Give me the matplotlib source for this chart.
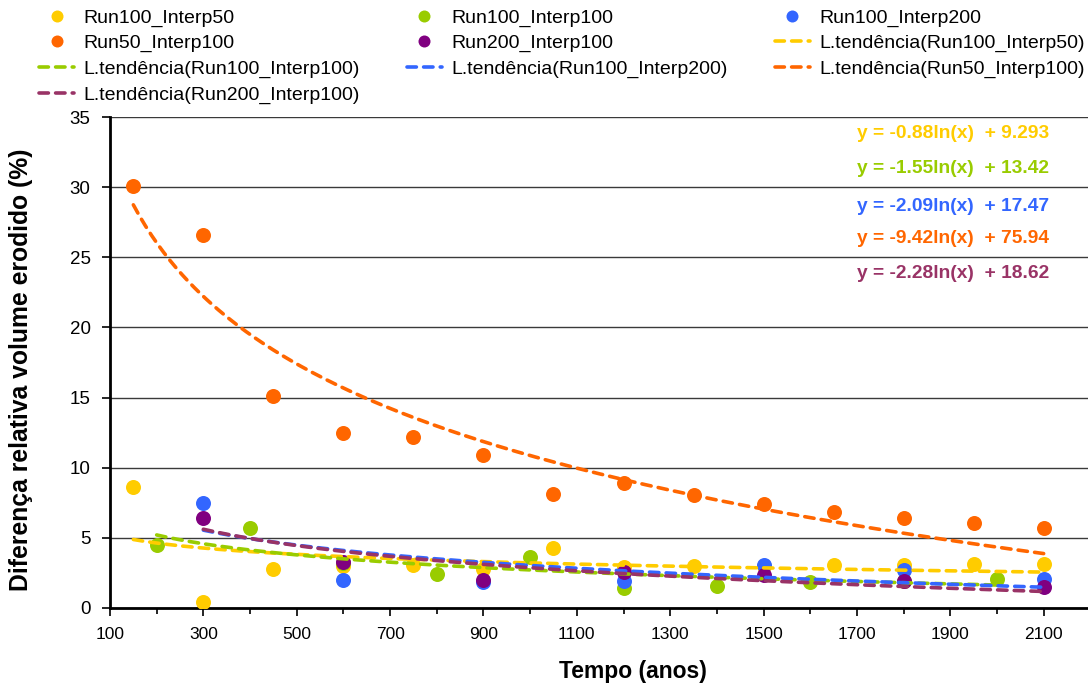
import numpy as np
import matplotlib
matplotlib.use("Agg")
import matplotlib.pyplot as plt

plt.rcParams["font.family"] = ["Liberation Sans", "DejaVu Sans"]

# tempo (anos) for each run
t_150 = [150, 300, 450, 600, 750, 900, 1050, 1200, 1350, 1500, 1650, 1800, 1950, 2100]
t_200 = [200, 400, 600, 800, 1000, 1200, 1400, 1600, 1800, 2000]
t_300 = [300, 600, 900, 1200, 1500, 1800, 2100]

# diferença relativa (%)
run100_interp50 = [8.6, 0.45, 2.8, 3.0, 3.05, 2.8, 4.25, 2.95, 3.0, 3.0, 3.05, 3.05, 3.15, 3.15]
run100_interp100 = [4.5, 5.7, 3.2, 2.45, 3.6, 1.4, 1.6, 1.85, 1.9, 2.1]
run100_interp200 = [7.5, 2.0, 1.85, 1.9, 3.05, 2.7, 2.1]
run50_interp100 = [30.1, 26.6, 15.1, 12.5, 12.2, 10.9, 8.1, 8.9, 8.05, 7.4, 6.85, 6.45, 6.05, 5.7]
run200_interp100 = [6.45, 3.3, 2.0, 2.6, 2.35, 1.9, 1.5]

names = ["Run100_Interp50", "Run100_Interp100", "Run100_Interp200",
         "Run50_Interp100", "Run200_Interp100"]
times = [t_150, t_200, t_300, t_150, t_300]
values = [run100_interp50, run100_interp100, run100_interp200,
          run50_interp100, run200_interp100]

# logarithmic trend lines y = a*ln(x) + b
trend_a = [-0.88, -1.55, -2.09, -9.42, -2.28]
trend_b = [9.293, 13.42, 17.47, 75.94, 18.62]
eq_y = [33.85, 31.35, 28.65, 26.35, 23.85]

point_colors = ["#FFCC00", "#99CC00", "#3366FF", "#FF6600", "#800080"]
trend_colors = ["#FFCC00", "#99CC00", "#3366FF", "#FF6600", "#993366"]

fig = plt.figure(figsize=(10.88, 6.88), dpi=100)
ax = fig.add_axes([110 / 1088, 1 - 608 / 688, 978 / 1088, 491 / 688])

point_handles = []
trend_handles = []
for i in range(5):
    h, = ax.plot(times[i], values[i], "o", color=point_colors[i], ms=10.8,
                 mec="none", zorder=3, label=names[i])
    point_handles.append(h)
for i in range(5):
    x = np.linspace(times[i][0], times[i][-1], 300)
    y = trend_a[i] * np.log(x) + trend_b[i]
    h, = ax.plot(x, y, color=trend_colors[i], lw=2.6, ls=(0, (2.6, 2.0)),
                 dash_capstyle="round", zorder=4,
                 label="L.tendência(%s)" % names[i])
    trend_handles.append(h)

for i in range(5):
    ax.text(1700, eq_y[i], "y = %.2fln(x)  + %s" % (trend_a[i], "{:.4g}".format(trend_b[i])),
            color=trend_colors[i], fontsize=13.8, fontweight="bold",
            ha="left", va="center")

ax.set_xlim(100, 2195)
ax.set_ylim(0, 35)
ax.set_xticks(range(100, 2101, 200))
ax.set_xticks(range(200, 2101, 200), minor=True)
ax.set_yticks(range(0, 36, 5))
ax.tick_params(axis="x", which="major", length=6, width=1.2, pad=8, labelsize=12.5)
ax.tick_params(axis="x", which="minor", length=4, width=1.2)
ax.tick_params(axis="y", length=6, width=1.2, pad=8, labelsize=13.5)
ax.yaxis.grid(True, color="#3a3a3a", lw=1.0)
ax.set_axisbelow(True)
for s in ["top", "right"]:
    ax.spines[s].set_visible(False)
ax.spines["left"].set_linewidth(2)
ax.spines["bottom"].set_linewidth(2)

ax.set_xlabel("Tempo (anos)", fontsize=16.5, fontweight="bold")
ax.xaxis.set_label_coords(0.535, -0.105)
ax.set_ylabel("Diferença relativa volume erodido (%)", fontsize=17.8, fontweight="bold")
ax.yaxis.set_label_coords(-0.079, 0.485)

# legend laid out row by row across three columns
order = point_handles + trend_handles
rows = [order[k:k + 3] for k in range(0, 10, 3)]
col_major = []
for c in range(3):
    for r in rows:
        if c < len(r):
            col_major.append(r[c])
leg = fig.legend(handles=col_major, labels=[h.get_label() for h in col_major],
                 ncol=3, loc="upper left", bbox_to_anchor=(39 / 1088, 1 - 9 / 688),
                 frameon=False, fontsize=14, borderpad=0, borderaxespad=0,
                 labelspacing=0.4, handlelength=1.8, handletextpad=0.5,
                 columnspacing=2.4, markerscale=0.8)

fig.savefig("out.png", dpi=100)
